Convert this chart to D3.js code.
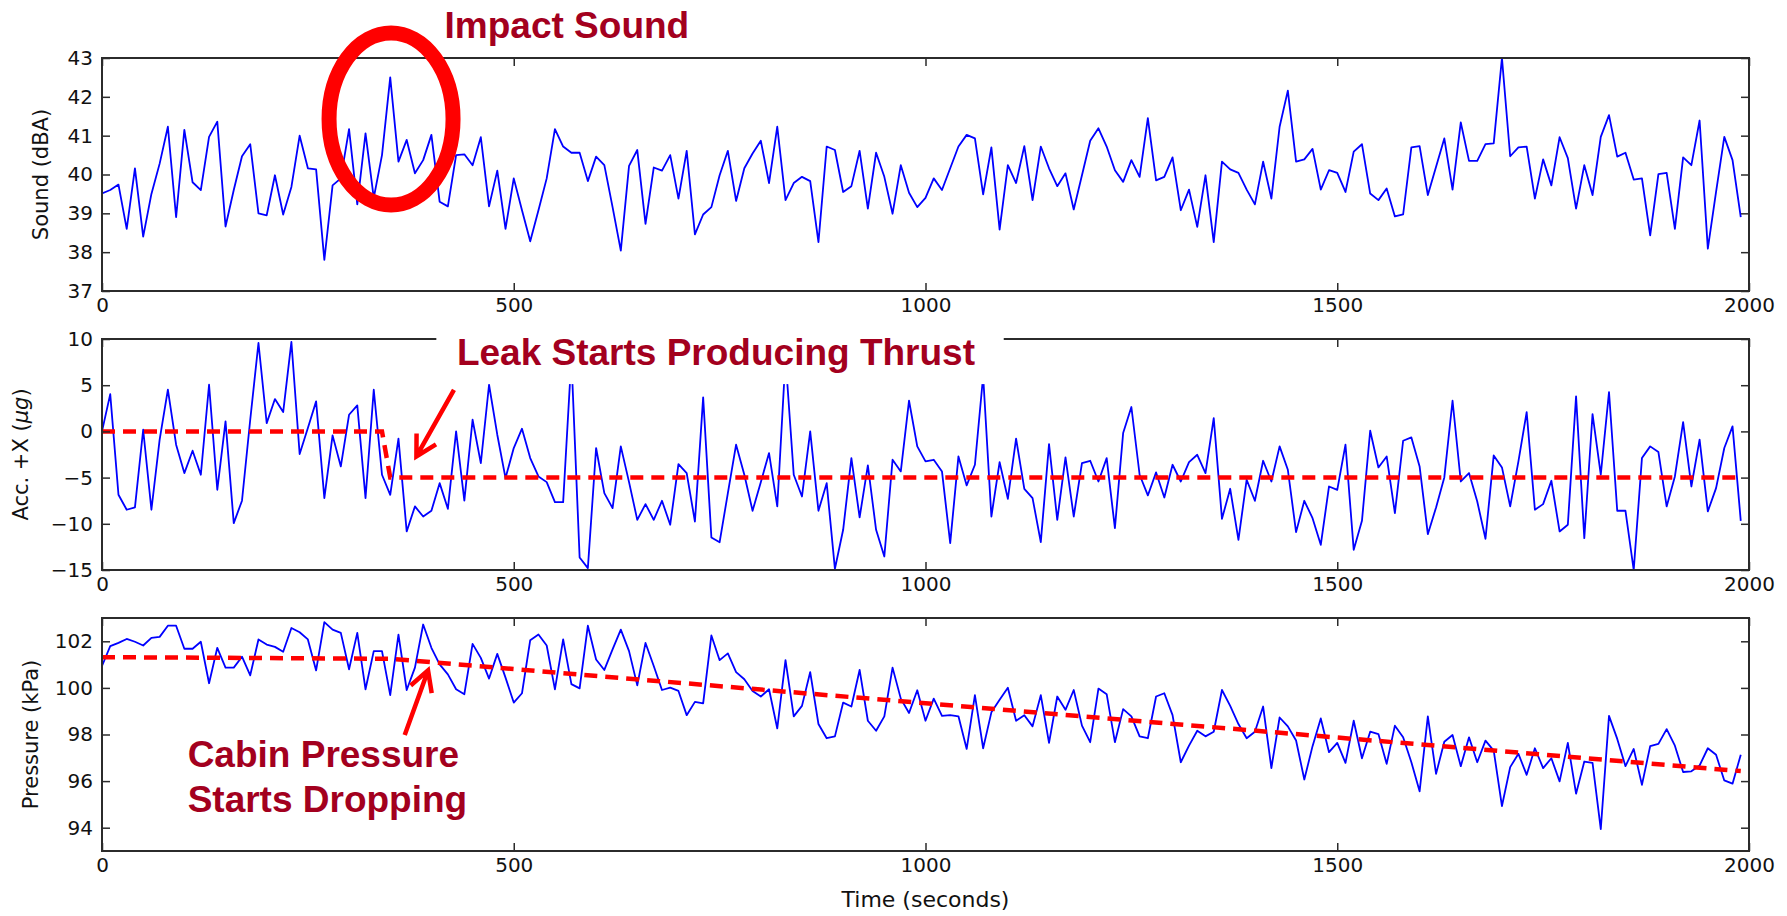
<!DOCTYPE html>
<html>
<head>
<meta charset="utf-8">
<script src="https://cdn.jsdelivr.net/npm/d3@7"></script>
<style>
  body { margin: 0; background: #fff; }
  text { font-family: "DejaVu Sans", sans-serif; }
  .note { font-family: "Liberation Sans", Arial, sans-serif; font-weight: bold; fill: #a3001e; }
</style>
</head>
<body>
<div id="chart"></div>
<script>
// one reading every 10 seconds
var times = d3.range(0, 2000, 10);

// Sound level (dBA)
var sound = [
  39.51, 39.6, 39.74, 38.6, 40.16, 38.4, 39.5, 40.28, 41.23, 38.9,
  41.15, 39.8, 39.6, 40.97, 41.36, 38.66, 39.6, 40.47, 40.78, 39.0,
  38.95, 39.98, 38.97, 39.68, 41.0, 40.16, 40.13, 37.8, 39.72, 39.9,
  41.17, 39.23, 41.06, 39.4, 40.5, 42.5, 40.33, 40.89, 40.03, 40.37,
  41.02, 39.3, 39.18, 40.5, 40.52, 40.24, 40.96, 39.18, 40.1, 38.6,
  39.9, 39.08, 38.28, 39.08, 39.9, 41.17, 40.72, 40.56, 40.56, 39.83,
  40.46, 40.24, 39.16, 38.04, 40.22, 40.63, 38.73, 40.18, 40.1, 40.5,
  39.38, 40.61, 38.46, 38.97, 39.16, 39.98, 40.61, 39.32, 40.16, 40.54,
  40.87, 39.78, 41.23, 39.34, 39.78, 39.94, 39.83, 38.26, 40.72, 40.63,
  39.55, 39.7, 40.61, 39.12, 40.56, 39.94, 38.99, 40.24, 39.53, 39.16,
  39.4, 39.9, 39.6, 40.16, 40.72, 41.02, 40.93, 39.49, 40.7, 38.58,
  40.24, 39.78, 40.73, 39.34, 40.72, 40.16, 39.7, 40.03, 39.1, 39.98,
  40.87, 41.19, 40.72, 40.11, 39.81, 40.37, 39.94, 41.45, 39.85, 39.94,
  40.44, 39.08, 39.61, 38.65, 39.98, 38.26, 40.33, 40.13, 40.04, 39.61,
  39.23, 40.33, 39.38, 41.23, 42.16, 40.33, 40.39, 40.66, 39.61, 40.11,
  40.04, 39.55, 40.59, 40.78, 39.51, 39.34, 39.64, 38.92, 38.97, 40.7,
  40.73, 39.47, 40.2, 40.93, 39.61, 41.34, 40.35, 40.35, 40.78, 40.8,
  43.0, 40.47, 40.7, 40.72, 39.38, 40.39, 39.72, 40.96, 40.42, 39.12,
  40.24, 39.47, 40.97, 41.53, 40.46, 40.56, 39.87, 39.9, 38.43, 40.01,
  40.04, 38.6, 40.44, 40.24, 41.39, 38.09, 39.55, 40.97, 40.37, 38.9
];

// Acceleration along +X (micro g)
var accX = [
  0.0, 4.04, -6.86, -8.48, -8.23, 0.18, -8.48, -0.9, 4.51, -1.44,
  -4.51, -2.09, -4.69, 5.05, -6.32, 1.08, -9.93, -7.5, 1.26, 9.57,
  0.9, 3.5, 2.09, 9.68, -2.45, 0.36, 3.25, -7.22, -0.43, -3.79,
  1.8, 2.82, -7.22, 4.51, -4.69, -6.86, -0.79, -10.83, -8.12, -9.21,
  -8.59, -5.6, -8.38, 0.0, -7.5, 1.26, -3.43, 5.05, -0.36, -5.05,
  -1.8, 0.29, -2.89, -4.87, -5.49, -7.65, -7.65, 8.0, -13.65, -14.8,
  -1.8, -6.68, -8.3, -1.62, -5.49, -9.57, -7.87, -9.57, -7.51, -10.1,
  -3.54, -4.51, -9.75, 3.68, -11.48, -11.99, -6.68, -1.44, -4.69, -8.59,
  -5.49, -2.35, -8.12, 8.0, -4.69, -7.04, 0.0, -8.59, -5.6, -14.87,
  -10.65, -2.89, -9.31, -3.68, -10.65, -13.54, -3.07, -4.33, 3.32, -1.62,
  -3.25, -3.07, -4.33, -12.1, -2.71, -5.85, -3.61, 6.0, -9.21, -3.32,
  -7.29, -0.79, -6.21, -7.22, -11.99, -1.37, -9.57, -2.82, -9.21, -3.43,
  -3.18, -5.42, -2.89, -10.47, -0.18, 2.64, -4.69, -6.93, -4.44, -7.15,
  -3.61, -5.42, -3.32, -2.53, -4.51, 1.44, -9.46, -6.21, -11.73, -5.23,
  -7.51, -3.18, -5.42, -1.62, -4.15, -10.9, -7.51, -9.39, -12.27, -5.96,
  -6.32, -1.44, -12.82, -9.68, 0.07, -3.9, -2.71, -8.84, -1.01, -0.65,
  -3.79, -11.12, -8.23, -4.98, 3.32, -5.42, -4.51, -7.58, -11.62, -2.6,
  -3.9, -8.12, -3.25, 2.09, -8.48, -7.87, -5.34, -10.83, -10.1, 3.79,
  -11.55, 1.88, -4.69, 4.26, -8.59, -8.59, -15.0, -2.89, -1.62, -2.24,
  -8.12, -4.87, 1.01, -5.96, -0.9, -8.66, -6.14, -1.8, 0.54, -9.68
];

// Cabin pressure (kPa)
var pressure = [
  100.94, 101.79, 101.93, 102.1, 101.98, 101.82, 102.15, 102.19, 102.67, 102.67,
  101.68, 101.68, 101.98, 100.2, 101.72, 100.87, 100.87, 101.34, 100.54, 102.08,
  101.86, 101.76, 101.55, 102.57, 102.39, 102.08, 100.75, 102.82, 102.5, 102.36,
  100.8, 102.36, 99.94, 101.58, 101.58, 99.69, 102.29, 99.91, 100.87, 102.72,
  101.72, 101.01, 100.58, 99.94, 99.73, 101.89, 101.29, 100.4, 101.46, 100.44,
  99.37, 99.77, 102.05, 102.29, 101.82, 99.94, 102.08, 100.16, 99.98, 102.67,
  101.22, 100.77, 101.65, 102.5, 101.58, 100.11, 101.93, 100.94, 99.91, 100.01,
  99.87, 98.83, 99.4, 99.34, 102.25, 101.19, 101.48, 100.68, 100.37, 99.87,
  99.63, 99.94, 98.26, 101.19, 98.78, 99.23, 100.68, 98.45, 97.84, 97.92,
  99.37, 99.2, 100.77, 98.59, 98.16, 98.78, 100.87, 99.54, 98.92, 99.9,
  98.59, 99.54, 98.8, 98.83, 98.78, 97.38, 99.69, 97.41, 98.95, 99.49,
  100.01, 98.59, 98.83, 98.35, 99.69, 97.64, 99.63, 99.06, 99.91, 98.38,
  97.67, 99.97, 99.73, 97.67, 99.09, 98.78, 97.92, 97.84, 99.63, 99.77,
  98.83, 96.81, 97.52, 98.16, 97.92, 98.12, 99.91, 99.23, 98.45, 97.84,
  98.12, 99.2, 96.56, 98.73, 98.35, 97.74, 96.07, 97.5, 98.69, 97.24,
  97.64, 96.78, 98.59, 96.98, 98.12, 98.02, 96.74, 98.38, 97.88, 96.81,
  95.56, 98.78, 96.31, 97.69, 97.98, 96.64, 97.88, 96.81, 97.74, 97.31,
  94.93, 96.6, 97.17, 96.27, 97.41, 96.56, 96.98, 95.99, 97.64, 95.46,
  96.84, 96.78, 93.94, 98.8, 97.81, 96.64, 97.38, 95.84, 97.5, 97.6,
  98.23, 97.52, 96.39, 96.42, 96.67, 97.41, 97.13, 96.03, 95.89, 97.13
];

// fitted trends (red dashed), given as breakpoints
var thrustT = [0, 340, 350, 1990];
var thrustV = [0, 0, -5, -5];
var dropT = [0, 350, 1990];
var dropV = [101.32, 101.25, 96.43];

// tick labels
var xTicks = [0, 500, 1000, 1500, 2000];
var soundTicks = [37, 38, 39, 40, 41, 42, 43];
var accTicks = [-15, -10, -5, 0, 5, 10];
var pressTicks = [94, 96, 98, 100, 102];

var width = 1787, height = 916;

var svg = d3.select("#chart")
  .append("svg")
    .attr("width", width)
    .attr("height", height);

var x = d3.scaleLinear()
  .domain([0, 2000])
  .range([102, 1749]);

var panels = [
  {values: sound, domain: [37, 43], ticks: soundTicks, top: 58, bottom: 291, label: "Sound (dBA)", labelX: 41},
  {values: accX, domain: [-15, 10], ticks: accTicks, top: 339, bottom: 570, label: null, labelX: 21,
    trendT: thrustT, trendV: thrustV},
  {values: pressure, domain: [93, 103], ticks: pressTicks, top: 618, bottom: 851, label: "Pressure (kPa)", labelX: 31,
    trendT: dropT, trendV: dropV}
];

var axisColor = "#2b2b2b";

panels.forEach(function(p, k) {
  var y = d3.scaleLinear().domain(p.domain).range([p.bottom, p.top]);
  p.y = y;

  svg.append("clipPath").attr("id", "clip" + k)
    .append("rect")
      .attr("x", x(0)).attr("y", p.top)
      .attr("width", x(2000) - x(0)).attr("height", p.bottom - p.top);

  var g = svg.append("g").attr("clip-path", "url(#clip" + k + ")");

  var line = d3.line()
    .x(function(d, i) { return x(times[i]); })
    .y(function(d) { return y(d); });

  g.append("path")
    .datum(p.values)
    .attr("d", line)
    .attr("fill", "none")
    .attr("stroke", "#0000ff")
    .attr("stroke-width", 1.8)
    .attr("stroke-linejoin", "round");

  if (p.trendT) {
    var trend = d3.line()
      .x(function(d, i) { return x(p.trendT[i]); })
      .y(function(d) { return y(d); });
    g.append("path")
      .datum(p.trendV)
      .attr("d", trend)
      .attr("fill", "none")
      .attr("stroke", "#ff0000")
      .attr("stroke-width", 4.5)
      .attr("stroke-dasharray", "13,8");
  }

  // frame
  svg.append("rect")
    .attr("x", x(0)).attr("y", p.top)
    .attr("width", x(2000) - x(0)).attr("height", p.bottom - p.top)
    .attr("fill", "none")
    .attr("stroke", axisColor)
    .attr("stroke-width", 2);

  // ticks pointing inwards on all four sides
  var ax = [
    svg.append("g").attr("transform", "translate(0," + p.bottom + ")")
      .call(d3.axisBottom(x).tickValues(xTicks).tickSize(-8).tickPadding(7).tickFormat(d3.format("d"))),
    svg.append("g").attr("transform", "translate(0," + p.top + ")")
      .call(d3.axisTop(x).tickValues(xTicks).tickSize(-8).tickFormat("")),
    svg.append("g").attr("transform", "translate(" + x(0) + ",0)")
      .call(d3.axisLeft(y).tickValues(p.ticks).tickSize(-8).tickPadding(9).tickFormat(d3.format("d"))),
    svg.append("g").attr("transform", "translate(" + x(2000) + ",0)")
      .call(d3.axisRight(y).tickValues(p.ticks).tickSize(-8).tickFormat(""))
  ];
  ax.forEach(function(a) {
    a.select(".domain").remove();
    a.selectAll(".tick line").attr("stroke", axisColor).attr("stroke-width", 1.5);
    a.selectAll(".tick text")
      .attr("fill", "#111")
      .style("font-family", "DejaVu Sans")
      .style("font-size", "20px");
  });

  // y label
  var midY = (p.top + p.bottom) / 2;
  var lab = svg.append("text")
    .attr("transform", "translate(" + p.labelX + "," + midY + ") rotate(-90)")
    .attr("text-anchor", "middle")
    .attr("dy", "0.35em")
    .attr("fill", "#111")
    .style("font-size", "21px");
  if (p.label) {
    lab.text(p.label);
  } else {
    lab.append("tspan").text("Acc. +X (");
    lab.append("tspan").style("font-style", "italic").text("\u03bcg");
    lab.append("tspan").text(")");
  }
});

// x label
svg.append("text")
  .attr("x", (x(0) + x(2000)) / 2)
  .attr("y", 907)
  .attr("text-anchor", "middle")
  .attr("fill", "#111")
  .style("font-size", "22px")
  .text("Time (seconds)");

// ----- annotations -----
var y1 = panels[0].y, y2 = panels[1].y, y3 = panels[2].y;

// impact ring
svg.append("ellipse")
  .attr("cx", x(351))
  .attr("cy", y1(41.43))
  .attr("rx", 62)
  .attr("ry", 86)
  .attr("fill", "none")
  .attr("stroke", "#ff0000")
  .attr("stroke-width", 15);

svg.append("text").attr("class", "note")
  .attr("x", x(416)).attr("y", 38)
  .style("font-size", "37px")
  .text("Impact Sound");

// white box behind the thrust label
svg.append("rect")
  .attr("x", x(406)).attr("y", 318)
  .attr("width", x(1095) - x(406))
  .attr("height", y2(5.12) - 318)
  .attr("fill", "#fff");

svg.append("text").attr("class", "note")
  .attr("x", x(431)).attr("y", 365)
  .style("font-size", "37px")
  .text("Leak Starts Producing Thrust");

svg.append("text").attr("class", "note")
  .attr("x", x(104)).attr("y", y3(96.59))
  .style("font-size", "37px")
  .text("Cabin Pressure");
svg.append("text").attr("class", "note")
  .attr("x", x(104)).attr("y", y3(94.68))
  .style("font-size", "37px")
  .text("Starts Dropping");

// arrows: tail -> tip
function arrow(x1, yA, x2, yB) {
  var a = Math.atan2(yA - yB, x1 - x2);
  var L = 23, s = Math.PI / 6.2;
  var d = "M" + x1 + "," + yA + "L" + x2 + "," + yB +
    "M" + (x2 + L * Math.cos(a + s)) + "," + (yB + L * Math.sin(a + s)) +
    "L" + x2 + "," + yB +
    "L" + (x2 + L * Math.cos(a - s)) + "," + (yB + L * Math.sin(a - s));
  svg.append("path")
    .attr("d", d)
    .attr("fill", "none")
    .attr("stroke", "#ff0000")
    .attr("stroke-width", 4.5);
}
arrow(x(427.4), y2(4.5), x(381.8), y2(-2.71));
arrow(x(367.6), y3(97.98), x(395.9), y3(100.75));
</script>
</body>
</html>
